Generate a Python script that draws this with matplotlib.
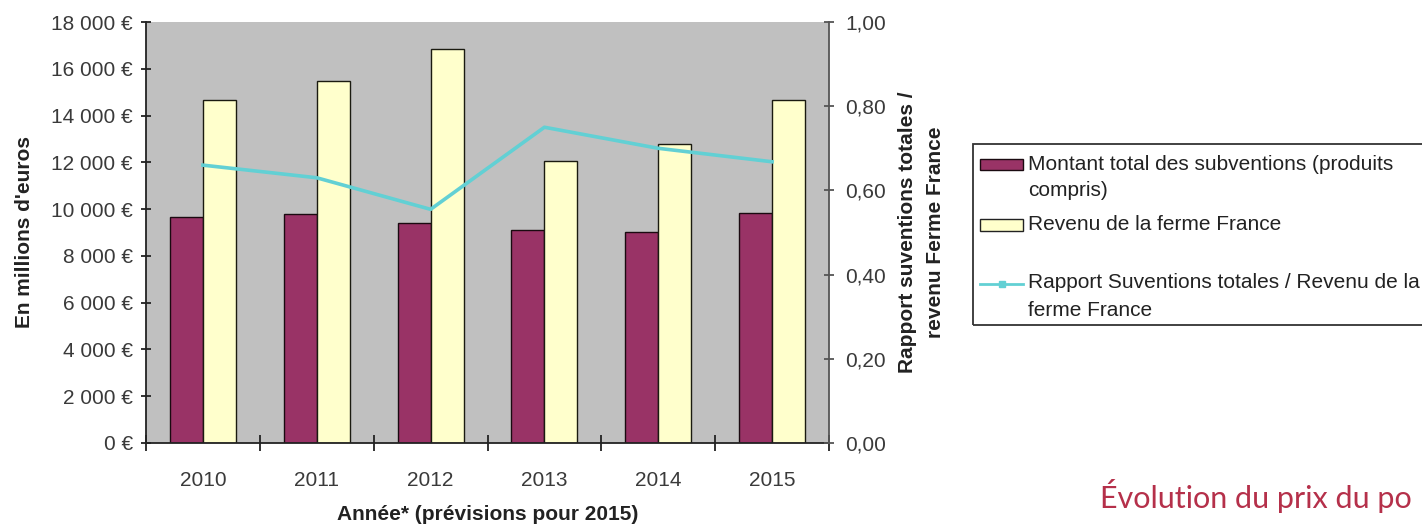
import numpy as np
import matplotlib; matplotlib.use('Agg'); import matplotlib.pyplot as plt
from matplotlib.patches import Rectangle
from matplotlib.lines import Line2D

plt.rcParams['font.family'] = ['Liberation Sans', 'DejaVu Sans']

years = ['2010', '2011', '2012', '2013', '2014', '2015']
subventions = [9680, 9780, 9420, 9110, 9010, 9850]        # millions d'euros
revenu = [14670, 15490, 16850, 12060, 12780, 14670]       # millions d'euros
rapport = [0.66, 0.63, 0.555, 0.75, 0.70, 0.668]

left_ticks = np.arange(0, 18001, 2000)
left_labels = [f"{v:,}".replace(',', ' ') + ' €' for v in left_ticks]
right_ticks = np.arange(0, 1.01, 0.2)
right_labels = [f"{v:.2f}".replace('.', ',') for v in right_ticks]

C_SUB, C_REV, C_LINE = '#993366', '#ffffcc', '#62d0d4'
TXT = '#3a3a3a'
FS = 15

W, H = 1422, 528
fig = plt.figure(figsize=(W / 100, H / 100), dpi=100)
ax = fig.add_axes([146 / W, 1 - 443 / H, (829 - 146) / W, (443 - 22) / H])
ax.set_facecolor('#c0c0c0')

x = np.arange(len(years))
bw = 0.29
ax.bar(x - bw / 2, subventions, bw, color=C_SUB, edgecolor='#1a0a10', lw=1, zorder=2)
ax.bar(x + bw / 2, revenu, bw, color=C_REV, edgecolor='#1a1a10', lw=1, zorder=2)
ax.set_xlim(-0.5, len(years) - 0.5)
ax.set_ylim(0, 18000)
ax.set_yticks(left_ticks)
ax.set_yticklabels(left_labels)
ax.set_xticks(x)
ax.set_xticklabels(years)
ax.set_xticks(np.arange(-0.5, len(years) - 0.4, 1), minor=True)
ax.tick_params(axis='x', which='major', length=0, pad=20, labelsize=FS, labelcolor=TXT)
ax.tick_params(axis='x', which='minor', length=11, width=1.3, direction='inout', color='#222')
ax.tick_params(axis='y', length=7, width=1.3, direction='inout', color='#222', labelsize=FS,
               labelcolor=TXT, pad=6)
for s in ['top', 'right']:
    ax.spines[s].set_visible(False)
ax.spines['left'].set_color('#222'); ax.spines['left'].set_linewidth(1.3)
ax.spines['bottom'].set_color('#222'); ax.spines['bottom'].set_linewidth(1.3)
ax.set_ylabel("En millions d'euros", fontsize=FS, fontweight='bold', color='#222', labelpad=12)
ax.set_xlabel('Année* (prévisions pour 2015)', fontsize=FS, fontweight='bold', color='#222',
              labelpad=11)

ax2 = ax.twinx()
ax2.plot(x, rapport, color=C_LINE, lw=2.6, zorder=3)
ax2.set_ylim(0, 1)
ax2.set_yticks(right_ticks)
ax2.set_yticklabels(right_labels)
ax2.tick_params(axis='y', length=7, width=1.3, direction='inout', color='#555', labelsize=FS,
                labelcolor=TXT, pad=8)
for s in ['top', 'left', 'bottom']:
    ax2.spines[s].set_visible(False)
ax2.spines['right'].set_color('#555'); ax2.spines['right'].set_linewidth(1.3)
ax2.set_ylabel('Rapport suventions totales /\nrevenu Ferme France', fontsize=FS,
               fontweight='bold', color='#222', labelpad=9, linespacing=1.55)

# legend, drawn by hand (Excel-like spacing, frame runs off the right edge)
def fx(px): return px / W
def fy(py): return 1 - py / H

fig.patches.append(Rectangle((fx(973), fy(325)), fx(1460) - fx(973), fy(144) - fy(325),
                             transform=fig.transFigure, fill=False, ec='#333', lw=1.3))
fig.patches.append(Rectangle((fx(980), fy(170)), fx(1023) - fx(980), fy(159) - fy(170),
                             transform=fig.transFigure, fc=C_SUB, ec='#1a0a10', lw=1))
fig.patches.append(Rectangle((fx(980), fy(231)), fx(1023) - fx(980), fy(219) - fy(231),
                             transform=fig.transFigure, fc=C_REV, ec='#222', lw=1))
fig.lines.append(Line2D([fx(980), fx(1023)], [fy(284), fy(284)], transform=fig.transFigure,
                        color=C_LINE, lw=2))
fig.lines.append(Line2D([fx(1001.5)], [fy(284)], transform=fig.transFigure, color=C_LINE,
                        marker='s', markersize=4, ls='none'))
leg_lines = [('Montant total des subventions (produits', 164), ('compris)', 190),
             ('Revenu de la ferme France', 225),
             ('Rapport Suventions totales / Revenu de la', 283), ('ferme France', 310)]
for t, py in leg_lines:
    fig.text(fx(1028), fy(py), t, fontsize=FS, color='#222', va='center', ha='left')

fig.text(fx(1100), fy(508), 'Évolution du prix du po', fontsize=22, color='#b5304a',
         family=['Lato', 'DejaVu Sans'], va='baseline', ha='left')

fig.savefig('out.png', dpi=100)
